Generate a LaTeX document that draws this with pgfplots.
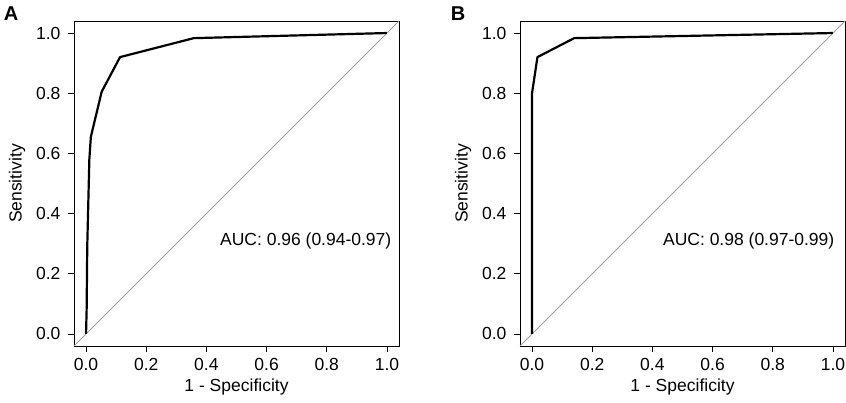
\documentclass[border=0pt]{standalone}
\usepackage{pgfplots}
\pgfplotsset{compat=1.18}
\usepackage{fontspec}
\setmainfont{Liberation Sans}
\definecolor{diag}{RGB}{160,160,160}
\pgfplotsset{
  rocax/.style={
    scale only axis, width=325pt, height=325pt,
    xmin=-0.04, xmax=1.04, ymin=-0.04, ymax=1.04,
    xtick={0,0.2,...,1.0}, ytick={0,0.2,...,1.0},
    tick align=outside, major tick length=6pt,
    xtick pos=bottom, ytick pos=left,
    tick style={black, line width=0.8pt},
    axis line style={line width=0.8pt},
    /pgf/number format/assume math mode=true,
    /pgf/number format/.cd, fixed, fixed zerofill, precision=1, /pgfplots/.cd,
    tick label style={font=\fontsize{17.5}{19}\selectfont},
    label style={font=\fontsize{17.5}{19}\selectfont},
    xlabel={1 - Specificity}, ylabel={Sensitivity},
    xticklabel style={yshift=-3pt},
    yticklabel style={xshift=-4pt},
    xlabel style={yshift=-1pt},
    ylabel style={yshift=4pt},
    clip=false,
  }
}
\begin{document}
\begin{tikzpicture}[x=1pt,y=1pt]
\useasboundingbox (0,0) rectangle (846,403);
\node[font=\bfseries\fontsize{20}{22}\selectfont] at (11,389) {A};
\node[font=\bfseries\fontsize{20}{22}\selectfont] at (458,389) {B};
\begin{axis}[rocax, at={(74pt,57pt)}, anchor=south west]
\addplot[diag, line width=1pt, forget plot] coordinates {(-0.04,-0.04) (1.04,1.04)};
\addplot[black, line width=2.2pt, line join=round] coordinates {
(0,0) (0.002,0.08) (0.004,0.29) (0.011,0.58) (0.016,0.655) (0.052,0.805) (0.113,0.92) (0.358,0.983) (1,1)};
\node[font=\fontsize{17.5}{19}\selectfont] at (axis cs:0.73,0.31) {AUC: 0.96 (0.94-0.97)};
\end{axis}
\begin{axis}[rocax, at={(520pt,57pt)}, anchor=south west]
\addplot[diag, line width=1pt, forget plot] coordinates {(-0.04,-0.04) (1.04,1.04)};
\addplot[black, line width=2.2pt, line join=round] coordinates {
(0,0) (0,0.80) (0.018,0.92) (0.14,0.983) (1,1)};
\node[font=\fontsize{17.5}{19}\selectfont] at (axis cs:0.72,0.31) {AUC: 0.98 (0.97-0.99)};
\end{axis}
\end{tikzpicture}
\end{document}
